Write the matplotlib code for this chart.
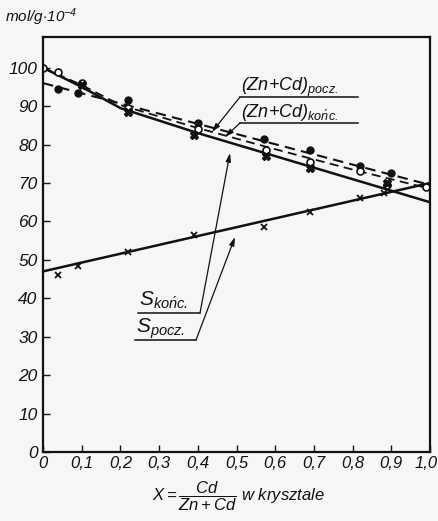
import matplotlib
matplotlib.use("Agg")
import matplotlib.pyplot as plt

plt.rcParams['font.family'] = ['Liberation Sans', 'DejaVu Sans']
plt.rcParams['font.style'] = 'italic'
plt.rcParams['mathtext.fontset'] = 'custom'
plt.rcParams['mathtext.it'] = 'Liberation Sans:italic'
plt.rcParams['mathtext.rm'] = 'Liberation Sans:italic'

# --- data ---
# (Zn+Cd) pocz. : dashed fit line + filled circles
pocz_line_x = [0.0, 1.0]
pocz_line_y = [96.0, 69.5]
pocz_pts_x = [0.04, 0.09, 0.22, 0.40, 0.57, 0.69, 0.82, 0.90]
pocz_pts_y = [94.5, 93.5, 91.5, 85.5, 81.5, 78.5, 74.5, 72.5]

# (Zn+Cd) konc. : dashed line + open circles
konc_line_x = [0.0, 0.1, 0.2, 0.4, 0.6, 0.8, 1.0]
konc_line_y = [100.0, 95.5, 90.3, 84.3, 78.8, 73.5, 68.5]
konc_pts_x = [0.0, 0.04, 0.10, 0.22, 0.40, 0.575, 0.69, 0.82, 0.89, 0.99]
konc_pts_y = [100.0, 99.0, 96.0, 89.5, 84.0, 78.5, 75.5, 73.0, 69.5, 69.0]

# S konc. : solid line + filled markers
skonc_line_x = [0.0, 0.1, 0.2, 0.4, 0.6, 0.8, 1.0]
skonc_line_y = [100.0, 95.0, 89.5, 83.0, 77.0, 71.0, 65.0]
skonc_pts_x = [0.10, 0.22, 0.39, 0.575, 0.69, 0.89]
skonc_pts_y = [95.5, 88.5, 82.5, 77.0, 74.0, 70.0]

# S pocz. : solid line + crosses
spocz_line_x = [0.0, 1.0]
spocz_line_y = [47.0, 70.0]
spocz_pts_x = [0.04, 0.09, 0.22, 0.39, 0.57, 0.69, 0.82, 0.88]
spocz_pts_y = [46.0, 48.5, 52.0, 56.5, 58.5, 62.5, 66.0, 67.5]

x_ticks = [0, 0.1, 0.2, 0.3, 0.4, 0.5, 0.6, 0.7, 0.8, 0.9, 1.0]
x_tick_labels = ['0', '0,1', '0,2', '0,3', '0,4', '0,5', '0,6', '0,7', '0,8', '0,9', '1,0']
y_ticks = [0, 10, 20, 30, 40, 50, 60, 70, 80, 90, 100]
y_tick_labels = [str(v) for v in y_ticks]

bg = '#f6f6f4'
ink = '#111111'

fig = plt.figure(figsize=(4.38, 5.21), dpi=100, facecolor=bg)
ax = fig.add_axes([43/438, 1-452/521, (430-43)/438, (452-37)/521])
ax.set_facecolor(bg)
ax.set_xlim(0, 1.0)
ax.set_ylim(0, 108)

ax.plot(pocz_line_x, pocz_line_y, color=ink, lw=1.5, ls=(0, (5, 3)))
ax.plot(konc_line_x, konc_line_y, color=ink, lw=1.3, ls=(0, (5, 3)))
ax.plot(skonc_line_x, skonc_line_y, color=ink, lw=1.8)
ax.plot(spocz_line_x, spocz_line_y, color=ink, lw=1.8)

ax.plot(pocz_pts_x, pocz_pts_y, 'o', ms=5, color=ink, ls='none')
ax.plot(konc_pts_x, konc_pts_y, 'o', ms=5, mfc='white', mec=ink, mew=1.2, ls='none')
ax.plot(skonc_pts_x, skonc_pts_y, 'X', ms=6, color=ink, ls='none')
ax.plot(spocz_pts_x, spocz_pts_y, 'x', ms=5, mew=1.3, color=ink, ls='none')

for sp in ax.spines.values():
    sp.set_linewidth(1.6)
    sp.set_color(ink)

ax.set_xticks(x_ticks)
ax.set_xticklabels(x_tick_labels, fontsize=12)
ax.set_yticks(y_ticks)
ax.set_yticklabels(y_tick_labels, fontsize=12.5)
ax.tick_params(direction='in', length=5, width=1.0, colors=ink, pad=3)
ax.tick_params(axis='y', pad=4)
# keep the last x label inside the canvas
lbls = ax.get_xticklabels()
lbls[-1].set_horizontalalignment('right')
lbls[-1].set_x(1.0)
import matplotlib.transforms as mtrans
lbls[-1].set_transform(lbls[-1].get_transform() + mtrans.ScaledTranslation(8/100, 0, fig.dpi_scale_trans))

# axis titles
fig.text(5/438, 1-17/521, r'mol/g$\cdot$10$^{-4}$', fontsize=11, ha='left', va='center', color=ink)
fig.text(238/438, 1-496/521, r'$X=\dfrac{Cd}{Zn+Cd}$ w krysztale', fontsize=12, ha='center', va='center', color=ink)

def px(xp, yp):
    # pixel -> data coordinates
    return ((xp - 43) / 387.0, (452 - yp) / (415 / 108))

def label(x0, y0, x1, main, sub, ytext, tip, from_right=False, size=13):
    a = px(x0, y0)
    b = px(x1, y0)
    ax.plot([a[0], b[0]], [a[1], b[1]], color=ink, lw=1.1, clip_on=False)
    start = b if from_right else a
    ax.annotate('', xy=px(*tip), xytext=start,
                arrowprops=dict(arrowstyle='-|>,head_length=0.5,head_width=0.15', color=ink, lw=0.9,
                                shrinkA=0, shrinkB=0))
    t = px(x0 + 1, ytext)
    ax.text(t[0], t[1], main + r'$_{\mathit{' + sub + '}}$', fontsize=size, ha='left', va='baseline', color=ink)

label(240, 97, 358, '(Zn+Cd)', r'pocz.', 91, (212, 132))
label(240, 123, 358, '(Zn+Cd)', r'ko\acute{n}c.', 117, (225, 137))
label(138, 313, 200, 'S', r'ko\acute{n}c.', 306, (230, 153), from_right=True, size=15)
label(135, 340, 196, 'S', r'pocz.', 333, (235, 237), from_right=True, size=15)

fig.savefig('out.png', dpi=100, facecolor=bg)
